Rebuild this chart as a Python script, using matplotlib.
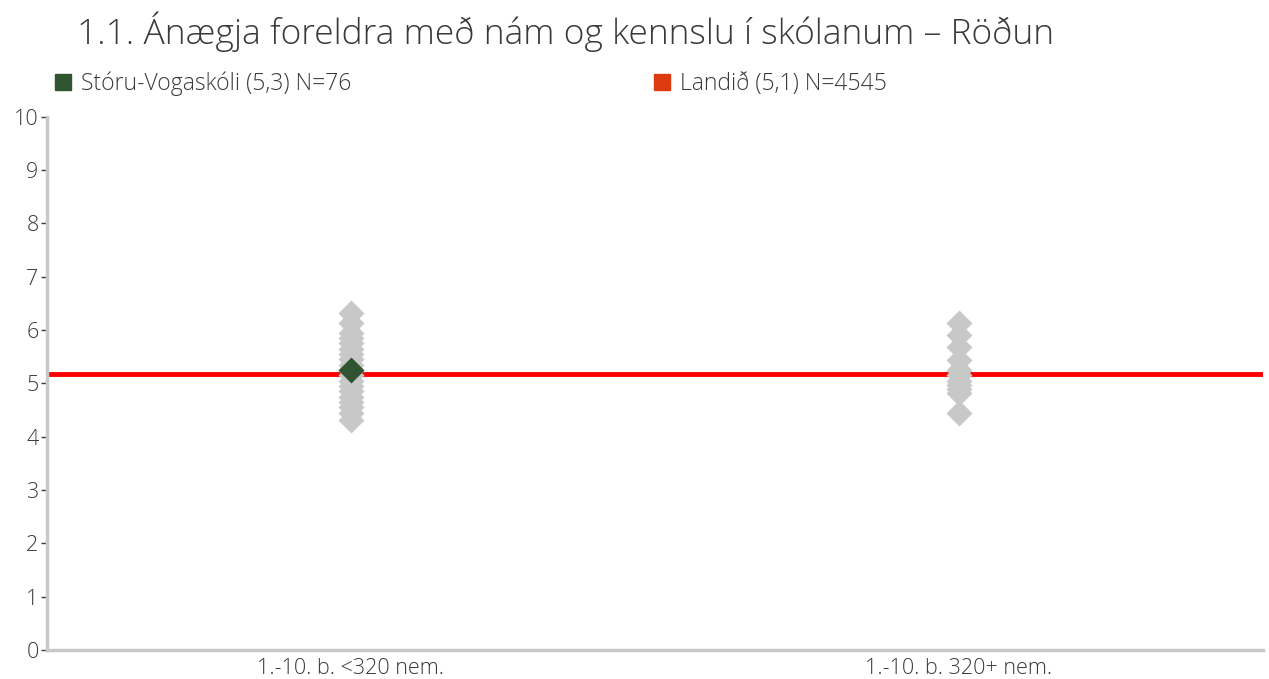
import numpy as np
import matplotlib
matplotlib.use("Agg")
import matplotlib.pyplot as plt
from matplotlib.patches import Patch

plt.rcParams['font.family'] = ['Open Sans', 'DejaVu Sans']

# Gögn
title = "1.1. Ánægja foreldra með nám og kennslu í skólanum – Röðun"
categories = ["1.-10. b. <320 nem.", "1.-10. b. 320+ nem."]
school_label = "Stóru-Vogaskóli (5,3) N=76"
national_label = "Landið (5,1) N=4545"

# aðrir skólar (gráir tíglar)
others_small = [6.32, 6.13, 5.95, 5.85, 5.75, 5.65, 5.55, 5.45, 5.35, 5.25,
                5.15, 5.05, 4.95, 4.85, 4.75, 4.65, 4.56, 4.45, 4.31]
others_large = [6.13, 5.91, 5.68, 5.44, 5.25, 5.15, 5.05, 4.97, 4.90, 4.82, 4.45]

school_value = 5.25
school_cat = 0
national_value = 5.17

text_col = "#3A3A3A"
grey = "#C8C8C8"
green = "#2E5530"
red = "#FF0000"

fig = plt.figure(figsize=(12.69, 6.79), dpi=100)
ax = fig.add_axes([0.037, 0.0427, 0.958, 0.7853])

ax.axhline(national_value, color=red, lw=3.5, zorder=1)
ax.plot(np.zeros(len(others_small)), others_small, 'D', ms=13, color=grey, mec='none', zorder=2)
ax.plot(np.ones(len(others_large)), others_large, 'D', ms=13, color=grey, mec='none', zorder=2)
ax.plot([school_cat], [school_value], 'D', ms=13, color=green, mec='none', zorder=3)

ax.set_xlim(-0.5, 1.5)
ax.set_ylim(0, 10)
ax.set_yticks(range(0, 11))
ax.set_xticks([0, 1])
ax.set_xticklabels(categories)

for s in ['top', 'right']:
    ax.spines[s].set_visible(False)
for s in ['left', 'bottom']:
    ax.spines[s].set_color(grey)
    ax.spines[s].set_linewidth(2.5)
ax.tick_params(axis='y', labelsize=15.5, colors=text_col, length=4, width=1, pad=2)
ax.tick_params(axis='x', labelsize=15.5, colors=text_col, length=0, pad=6)
for lab in ax.get_xticklabels() + ax.get_yticklabels():
    lab.set_fontweight('light')

fig.text(0.061, 0.935, title, fontsize=25.5, color=text_col, va='baseline', fontweight='light')

handles = [Patch(color=green, label=school_label), Patch(color="#DD3A12", label=national_label)]
leg = fig.legend(handles=handles, loc='center left', bbox_to_anchor=(0.036, 0.876), ncol=2,
                 frameon=False, fontsize=16.5, handlelength=0.7, handleheight=0.7,
                 handletextpad=0.45, columnspacing=13.2, borderaxespad=0)
for t in leg.get_texts():
    t.set_color(text_col)
    t.set_fontweight('light')

fig.savefig("out.png", dpi=100)
